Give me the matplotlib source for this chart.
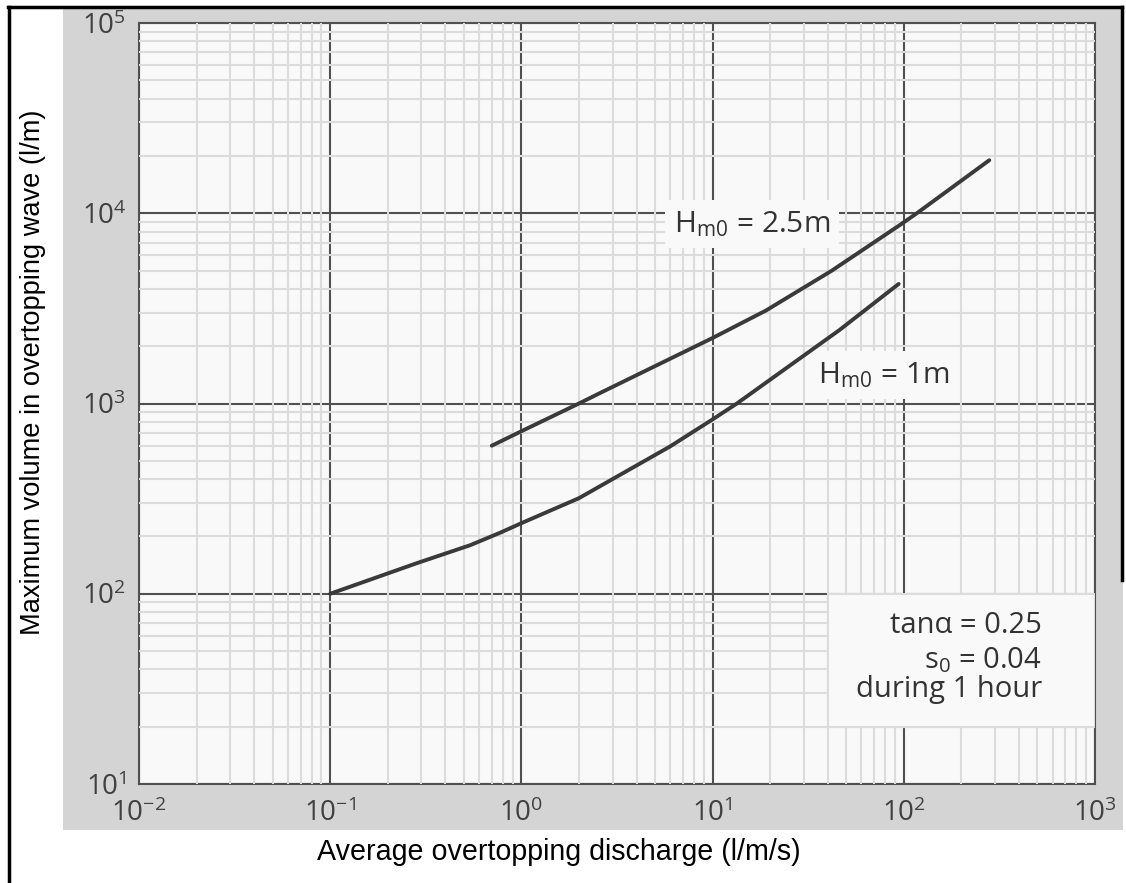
import matplotlib
matplotlib.use("Agg")
import matplotlib.pyplot as plt
from matplotlib.patches import Rectangle
from matplotlib.lines import Line2D

# overtopping discharge (l/m/s) vs. maximum wave volume (l/m)
q_h25 = [0.7, 1, 2, 2.6, 10, 19, 42, 95, 117, 280]
v_h25 = [600, 715, 1000, 1140, 2210, 3080, 4990, 8650, 10000, 19000]

q_h1 = [0.1, 0.285, 0.54, 0.78, 1, 2, 6, 10, 13.4, 46, 94]
v_h1 = [100, 145, 180, 210, 235, 318, 595, 825, 1000, 2430, 4250]

x_decades = [1e-2, 1e-1, 1e0, 1e1, 1e2, 1e3]
y_decades = [1e1, 1e2, 1e3, 1e4, 1e5]

# info box corners in data units
box_q = [40, 1000]
box_v = [20, 100]

plt.rcParams['font.family'] = ['Open Sans', 'DejaVu Sans']
plt.rcParams['mathtext.fontset'] = 'custom'
plt.rcParams['mathtext.rm'] = 'Open Sans'
plt.rcParams['mathtext.it'] = 'Open Sans:italic'
plt.rcParams['mathtext.bf'] = 'Open Sans:bold'

W, H = 1126, 883
fig = plt.figure(figsize=(W / 100, H / 100), dpi=100)
fig.patch.set_facecolor('white')


def fx(px):
    return px / W


def fy(py):
    return 1 - py / H


# grey panel behind the axes
fig.patches.append(Rectangle((fx(63), fy(830)), fx(1123) - fx(63), fy(8) - fy(830),
                             facecolor='#d4d4d4', edgecolor='none',
                             transform=fig.transFigure, zorder=-2))
# outer frame
for xs, ys in [([8, 1122], [7, 7]), ([8.5, 8.5], [7, 883]), ([1121.5, 1121.5], [7, 580])]:
    fig.lines.append(Line2D([fx(v) for v in xs], [fy(v) for v in ys], color='black',
                            lw=2.5, transform=fig.transFigure, zorder=5))

ax = fig.add_axes([fx(139), fy(784), fx(1095) - fx(139), fy(23) - fy(784)])
ax.set_zorder(1)
ax.set_facecolor('#f9f9f9')
ax.set_xscale('log')
ax.set_yscale('log')
ax.set_xlim(x_decades[0], x_decades[-1])
ax.set_ylim(y_decades[0], y_decades[-1])

# dark decade lines underneath, light minor lines on top of them
for xv in x_decades:
    ax.axvline(xv, color='#505050', lw=1.5, zorder=1.0)
for yv in y_decades:
    ax.axhline(yv, color='#505050', lw=1.5, zorder=1.0)
ax.grid(which='minor', color='#dcdcdc', lw=1.5)
ax.grid(which='major', visible=False)
for sp in ax.spines.values():
    sp.set_color('#505050')
    sp.set_linewidth(1.5)
    sp.set_zorder(1.0)

ax.tick_params(which='both', length=0)
ax.tick_params(axis='x', pad=11, labelsize=20, labelcolor='#404040')
ax.tick_params(axis='y', pad=9, labelsize=20, labelcolor='#404040')
ax.set_xticks(x_decades)
ax.set_yticks(y_decades)

ax.plot(q_h25, v_h25, color='#3a3a3a', lw=2.8, solid_capstyle='round',
        solid_joinstyle='round', zorder=2.5)
ax.plot(q_h1, v_h1, color='#3a3a3a', lw=2.8, solid_capstyle='round',
        solid_joinstyle='round', zorder=2.5)

lbl_box = dict(boxstyle='square,pad=0.3', facecolor='#f9f9f9', edgecolor='none')
ax.text(6.3, 8770, r'H$_{\mathrm{m0}}$ = 2.5m', fontsize=21.5, color='#333333',
        ha='left', va='center', bbox=lbl_box, zorder=2.2)
ax.text(35.6, 1413, r'H$_{\mathrm{m0}}$ = 1m', fontsize=21.5, color='#333333',
        ha='left', va='center', bbox=lbl_box, zorder=2.2)

ax.add_patch(Rectangle((box_q[0], box_v[0]), box_q[1] - box_q[0], box_v[1] - box_v[0],
                       facecolor='#f9f9f9', edgecolor='#dcdcdc', lw=1.5, zorder=1.8))
ax.text(528, 68.5, 'tanα = 0.25', fontsize=21, color='#333333', ha='right', va='center', zorder=3)
ax.text(528, 44.9, r'$\mathrm{s_0}$ = 0.04', fontsize=21, color='#333333', ha='right', va='center', zorder=3)
ax.text(528, 31.2, 'during 1 hour', fontsize=21, color='#333333', ha='right', va='center', zorder=3)

fig.text(fx(559), fy(852), 'Average overtopping discharge (l/m/s)', family='Liberation Sans',
         fontsize=20.6, ha='center', va='center')
fig.text(fx(33), fy(372), 'Maximum volume in overtopping wave (l/m)', family='Liberation Sans',
         fontsize=19.6, ha='center', va='center', rotation=90)

fig.savefig('out.png', dpi=100)
